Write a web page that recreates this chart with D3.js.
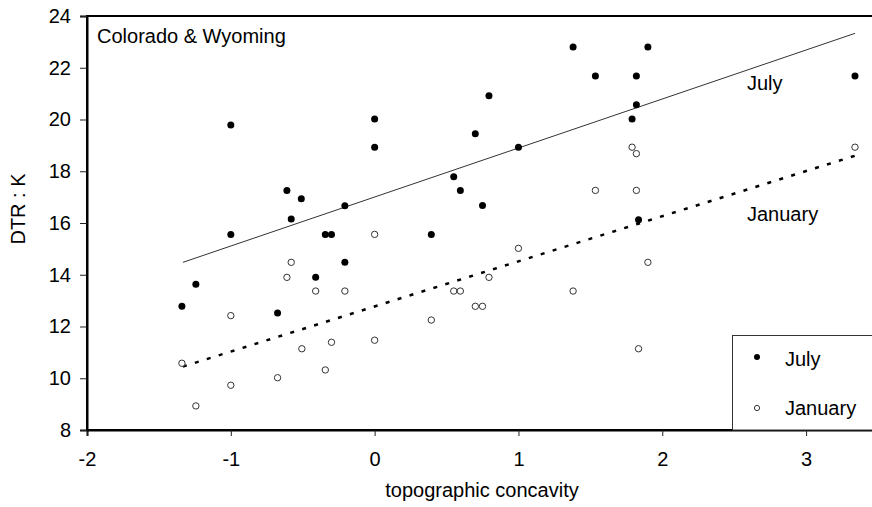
<!DOCTYPE html>
<html>
<head>
<meta charset="utf-8">
<script src="https://cdn.jsdelivr.net/npm/d3@7"></script>
<style>
  body { margin: 0; background: #fff; }
  text { font-family: "Liberation Sans", Arial, sans-serif; fill: #000; }
</style>
</head>
<body>
<div id="chart"></div>
<script>
// Data: [topographic concavity, DTR (K)]
const julyPoints = [
    [-1.34, 12.78], [-1.243, 13.63], [-1.0, 19.79], [-1.0, 15.56],
    [-0.675, 12.52], [-0.61, 17.26], [-0.58, 16.15], [-0.51, 16.94],
    [-0.41, 13.90], [-0.343, 15.56], [-0.30, 15.56], [-0.207, 16.67],
    [-0.207, 14.48], [0, 20.02], [0, 18.93], [0.394, 15.56],
    [0.55, 17.79], [0.596, 17.26], [0.70, 19.45], [0.75, 16.68],
    [0.795, 20.92], [1.0, 18.93], [1.38, 22.80], [1.535, 21.68],
    [1.79, 20.02], [1.82, 21.68], [1.82, 20.57], [1.835, 16.13],
    [1.90, 22.80], [3.34, 21.68]
];

const januaryPoints = [
    [-1.34, 10.58], [-1.243, 8.93], [-1.0, 12.42], [-1.0, 9.73],
    [-0.675, 10.02], [-0.61, 13.90], [-0.58, 14.48], [-0.506, 11.14],
    [-0.41, 13.37], [-0.343, 10.32], [-0.30, 11.39], [-0.207, 13.37],
    [0, 15.56], [0, 11.47], [0.394, 12.25], [0.55, 13.37],
    [0.596, 13.37], [0.70, 12.78], [0.75, 12.78], [0.795, 13.90],
    [1.0, 15.02], [1.38, 13.37], [1.535, 17.26], [1.79, 18.93],
    [1.82, 18.68], [1.82, 17.26], [1.835, 11.14], [1.90, 14.48],
    [3.34, 18.93]
];

// Trend line end points
const julyFit = [[-1.333, 14.48], [3.34, 23.33]];
const januaryFit = [[-1.333, 10.45], [3.34, 18.6]];

const xTicks = [-2, -1, 0, 1, 2, 3];
const yTicks = [8, 10, 12, 14, 16, 18, 20, 22, 24];

// Dimensions
const width = 872;
const height = 507;
const margin = { top: 16, right: -6, bottom: 77, left: 87 };

const svg = d3.select("#chart")
    .append("svg")
    .attr("width", width)
    .attr("height", height);

// Scales
const x = d3.scaleLinear()
    .domain([-2, 3.5])
    .range([margin.left, width - margin.right]);

const y = d3.scaleLinear()
    .domain([8, 24])
    .range([height - margin.bottom, margin.top]);

// Plot frame
svg.append("rect")
    .attr("x", x(-2))
    .attr("y", y(24))
    .attr("width", x(3.5) - x(-2))
    .attr("height", y(8) - y(24))
    .attr("fill", "none")
    .attr("stroke", "#000")
    .attr("stroke-width", 2);

// Axes
const xAxis = svg.append("g")
    .attr("transform", `translate(0, ${y(8)})`)
    .call(d3.axisBottom(x).tickValues(xTicks).tickSize(6).tickPadding(16).tickFormat(d3.format("d")));

const yAxis = svg.append("g")
    .attr("transform", `translate(${x(-2)}, 0)`)
    .call(d3.axisLeft(y).tickValues(yTicks).tickSize(7).tickPadding(9));

[xAxis, yAxis].forEach(g => {
    g.select(".domain").attr("stroke", "#000").attr("stroke-width", 2);
    g.selectAll(".tick line").attr("stroke", "#222");
    g.selectAll(".tick text")
        .style("font-size", "20px")
        .style("font-family", "Liberation Sans, Arial, sans-serif")
        .attr("fill", "#000");
});
xAxis.selectAll(".tick text").text(d => d < 0 ? "-" + Math.abs(d) : d);

// Axis labels
svg.append("text")
    .attr("text-anchor", "middle")
    .attr("x", 482)
    .attr("y", 497)
    .style("font-size", "20px")
    .text("topographic concavity");

svg.append("text")
    .attr("text-anchor", "middle")
    .attr("transform", "translate(25, 209) rotate(-90)")
    .style("font-size", "20px")
    .text("DTR : K");

// Trend lines
const line = d3.line()
    .x(d => x(d[0]))
    .y(d => y(d[1]));

svg.append("path")
    .datum(julyFit)
    .attr("fill", "none")
    .attr("stroke", "#333")
    .attr("stroke-width", 1)
    .attr("d", line);

svg.append("path")
    .datum(januaryFit)
    .attr("fill", "none")
    .attr("stroke", "#000")
    .attr("stroke-width", 2.5)
    .attr("stroke-dasharray", "4,8.5")
    .attr("d", line);

// Points
svg.append("g")
    .selectAll("circle")
    .data(januaryPoints)
    .join("circle")
    .attr("cx", d => x(d[0]))
    .attr("cy", d => y(d[1]))
    .attr("r", 3.2)
    .attr("fill", "#fff")
    .attr("stroke", "#333")
    .attr("stroke-width", 1);

svg.append("g")
    .selectAll("circle")
    .data(julyPoints)
    .join("circle")
    .attr("cx", d => x(d[0]))
    .attr("cy", d => y(d[1]))
    .attr("r", 3.5)
    .attr("fill", "#000");

// Text annotations
svg.append("text")
    .attr("x", 97)
    .attr("y", 43)
    .style("font-size", "20px")
    .text("Colorado & Wyoming");

svg.append("text")
    .attr("x", 747)
    .attr("y", 90)
    .style("font-size", "20px")
    .text("July");

svg.append("text")
    .attr("x", 747)
    .attr("y", 221)
    .style("font-size", "20px")
    .text("January");

// Legend
const legend = svg.append("g");

legend.append("rect")
    .attr("x", 732.5)
    .attr("y", 335.5)
    .attr("width", 160)
    .attr("height", y(8) - 335.5)
    .attr("fill", "#fff")
    .attr("stroke", "#333")
    .attr("stroke-width", 1);

legend.append("circle")
    .attr("cx", 757)
    .attr("cy", 357)
    .attr("r", 3)
    .attr("fill", "#000");

legend.append("circle")
    .attr("cx", 757)
    .attr("cy", 408)
    .attr("r", 2.6)
    .attr("fill", "#fff")
    .attr("stroke", "#333");

legend.append("text")
    .attr("x", 785)
    .attr("y", 366)
    .style("font-size", "20px")
    .text("July");

legend.append("text")
    .attr("x", 785)
    .attr("y", 415)
    .style("font-size", "20px")
    .text("January");
</script>
</body>
</html>
